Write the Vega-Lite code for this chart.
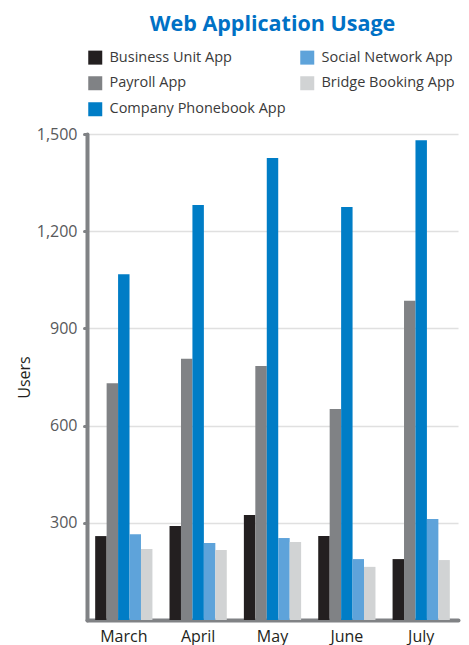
{
  "$schema": "https://vega.github.io/schema/vega-lite/v6.json",
  "width": 371,
  "height": 486,
  "autosize": {"type": "none"},
  "padding": {"left": 87, "top": 134, "right": 11, "bottom": 25},
  "background": "white",
  "title": {
    "text": "Web Application Usage",
    "anchor": "middle",
    "frame": "group",
    "fontSize": 21.5,
    "fontWeight": "bold",
    "font": "Open Sans",
    "color": "#0071c5",
    "offset": 15
  },
  "config": {
    "view": {"stroke": null},
    "font": "Open Sans"
  },
  "data": {
    "values": [
      {"month": "March", "app": "Business Unit App", "users": 259},
      {"month": "March", "app": "Payroll App", "users": 731},
      {"month": "March", "app": "Company Phonebook App", "users": 1067},
      {"month": "March", "app": "Social Network App", "users": 265},
      {"month": "March", "app": "Bridge Booking App", "users": 219},
      {"month": "April", "app": "Business Unit App", "users": 290},
      {"month": "April", "app": "Payroll App", "users": 806},
      {"month": "April", "app": "Company Phonebook App", "users": 1281},
      {"month": "April", "app": "Social Network App", "users": 238},
      {"month": "April", "app": "Bridge Booking App", "users": 216},
      {"month": "May", "app": "Business Unit App", "users": 324},
      {"month": "May", "app": "Payroll App", "users": 784},
      {"month": "May", "app": "Company Phonebook App", "users": 1426},
      {"month": "May", "app": "Social Network App", "users": 253},
      {"month": "May", "app": "Bridge Booking App", "users": 241},
      {"month": "June", "app": "Business Unit App", "users": 259},
      {"month": "June", "app": "Payroll App", "users": 651},
      {"month": "June", "app": "Company Phonebook App", "users": 1275},
      {"month": "June", "app": "Social Network App", "users": 188},
      {"month": "June", "app": "Bridge Booking App", "users": 164},
      {"month": "July", "app": "Business Unit App", "users": 188},
      {"month": "July", "app": "Payroll App", "users": 985},
      {"month": "July", "app": "Company Phonebook App", "users": 1481},
      {"month": "July", "app": "Social Network App", "users": 312},
      {"month": "July", "app": "Bridge Booking App", "users": 185}
    ]
  },
  "mark": {"type": "bar"},
  "encoding": {
    "x": {
      "field": "month",
      "type": "nominal",
      "sort": ["March", "April", "May", "June", "July"],
      "scale": {"paddingInner": 0.23, "paddingOuter": 0.11},
      "axis": {
        "title": null,
        "labelAngle": 0,
        "labelFontSize": 16,
        "labelColor": "#231f20",
        "labelPadding": 8,
        "ticks": false,
        "domainColor": "#808285",
        "domainWidth": 4,
        "domainCap": "round",
        "grid": false
      }
    },
    "xOffset": {
      "field": "app",
      "type": "nominal",
      "sort": ["Business Unit App", "Payroll App", "Company Phonebook App", "Social Network App", "Bridge Booking App"],
      "scale": {"paddingInner": 0, "paddingOuter": 0}
    },
    "y": {
      "field": "users",
      "type": "quantitative",
      "scale": {"domain": [0, 1500], "nice": false},
      "axis": {
        "title": "Users",
        "titleFontSize": 16,
        "titleFontWeight": "normal",
        "titleColor": "#231f20",
        "titlePadding": 4,
        "values": [300, 600, 900, 1200, 1500],
        "format": ",d",
        "labelFontSize": 16,
        "labelColor": "#58595b",
        "labelPadding": 7,
        "tickSize": 3,
        "tickWidth": 3,
        "tickColor": "#808285",
        "tickCap": "round",
        "domainColor": "#808285",
        "domainWidth": 4,
        "domainCap": "round",
        "grid": true,
        "gridColor": "#e0e0e0",
        "gridWidth": 1.5
      }
    },
    "color": {
      "field": "app",
      "type": "nominal",
      "scale": {
        "domain": ["Business Unit App", "Payroll App", "Company Phonebook App", "Social Network App", "Bridge Booking App"],
        "range": ["#231f20", "#808285", "#007dc6", "#5ea3da", "#d1d3d4"]
      },
      "legend": {
        "title": null,
        "orient": "none",
        "legendX": 1,
        "legendY": -84,
        "columns": 2,
        "direction": "horizontal",
        "values": ["Business Unit App", "Social Network App", "Payroll App", "Bridge Booking App", "Company Phonebook App"],
        "symbolType": "square",
        "symbolSize": 196,
        "symbolStrokeWidth": 0,
        "labelFontSize": 14.5,
        "labelColor": "#3a3a3a",
        "labelOffset": 7,
        "rowPadding": 10,
        "columnPadding": 14,
        "labelLimit": 250
      }
    }
  }
}
